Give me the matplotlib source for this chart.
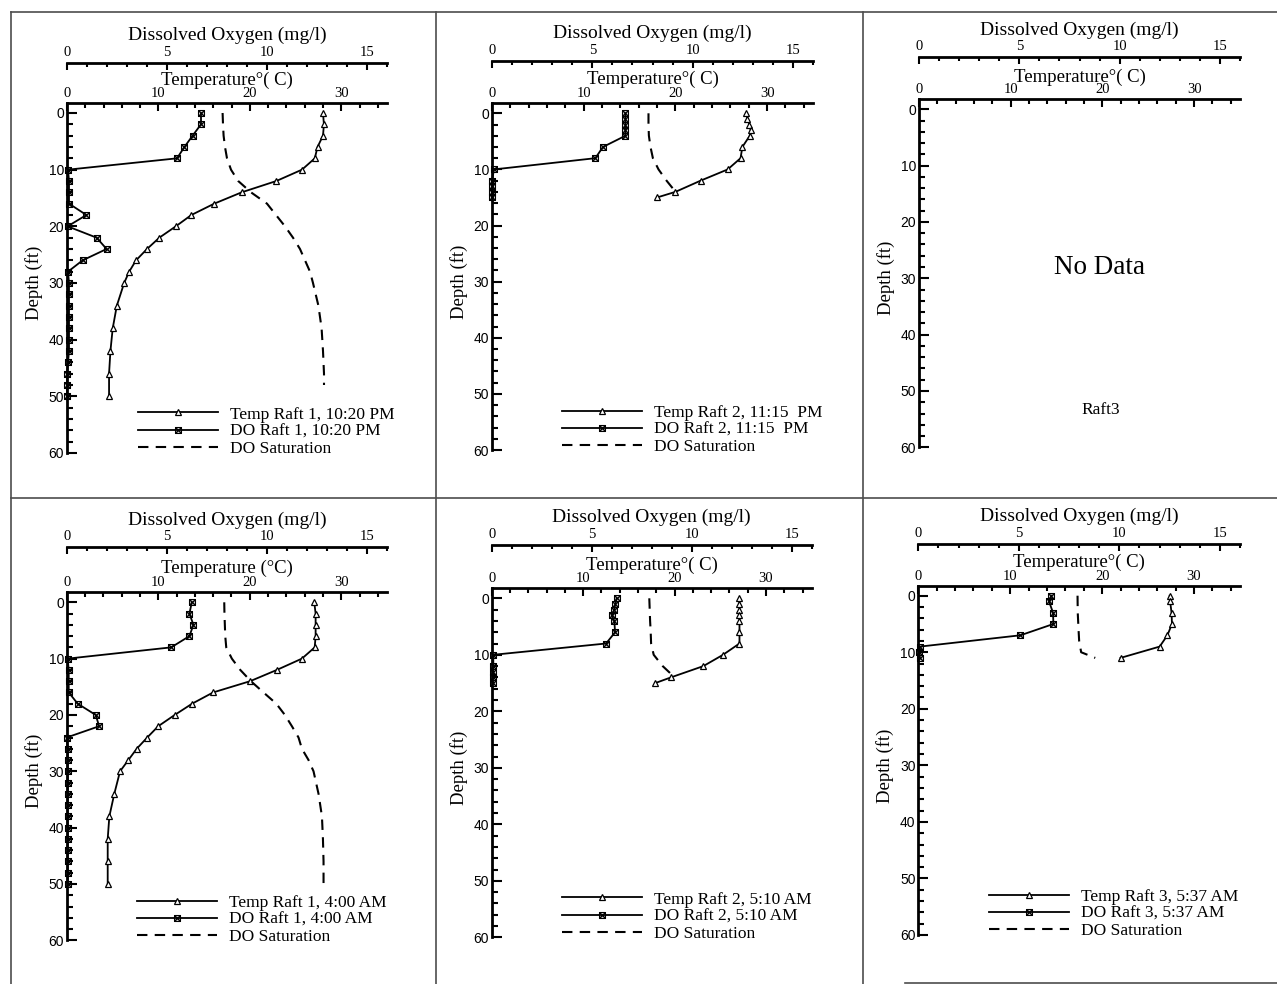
import matplotlib
matplotlib.use("Agg")
import matplotlib.pyplot as plt
from matplotlib.lines import Line2D
from matplotlib.path import Path
from matplotlib.ticker import MultipleLocator

plt.rcParams['font.family'] = ['Liberation Serif', 'DejaVu Serif']

W, H, DPI = 1277, 984, 100
PT = 72.0 / DPI  # points per pixel

# ---------------- profile data ----------------
# Raft 1, 10:20 PM
r1_pm_temp_depth = [0, 2, 4, 6, 8, 10, 12, 14, 16, 18, 20, 22, 24, 26, 28, 30, 34, 38, 42, 46, 50]
r1_pm_temp = [28.0, 28.1, 28.0, 27.4, 27.1, 25.7, 22.9, 19.1, 16.1, 13.6, 11.9, 10.1, 8.75,
              7.55, 6.8, 6.25, 5.45, 5.0, 4.75, 4.6, 4.6]
r1_pm_do_depth = list(range(0, 52, 2))
r1_pm_do = [6.7, 6.7, 6.28, 5.87, 5.5, 0.05, 0.1, 0.1, 0.1, 0.97, 0.03, 1.48, 1.98, 0.78,
            0.05, 0.1, 0.1, 0.1, 0.1, 0.1, 0.1, 0.1, 0.05, 0.0, 0.0, 0.0]
r1_pm_sat_depth = [0, 2, 4, 6, 8, 10, 12, 14, 16, 18, 20, 22, 24, 26, 28, 30, 34, 38, 42, 46, 48]
r1_pm_sat = [7.78, 7.8, 7.83, 7.9, 8.0, 8.2, 8.56, 9.2, 10.0, 10.45, 10.9, 11.3, 11.65,
             11.9, 12.15, 12.3, 12.57, 12.73, 12.8, 12.85, 12.85]

# Raft 2, 11:15 PM
r2_pm_temp_depth = [0, 1, 2, 3, 4, 6, 8, 10, 12, 14, 15]
r2_pm_temp = [27.7, 27.85, 28.05, 28.2, 28.1, 27.3, 27.1, 25.7, 22.75, 20.0, 18.0]
r2_pm_do_depth = [0, 1, 2, 3, 4, 6, 8, 10, 12, 13, 14, 15]
r2_pm_do = [6.65, 6.65, 6.65, 6.65, 6.65, 5.53, 5.15, 0.1, 0.0, 0.0, 0.0, 0.0]
r2_pm_sat_depth = [0, 2, 4, 6, 8, 10, 12, 14]
r2_pm_sat = [7.8, 7.8, 7.82, 7.9, 8.02, 8.3, 8.7, 9.15]

# Raft 1, 4:00 AM
r1_am_temp_depth = [0, 2, 4, 6, 8, 10, 12, 14, 16, 18, 20, 22, 24, 26, 28, 30, 34, 38, 42, 46, 50]
r1_am_temp = [27.05, 27.2, 27.2, 27.2, 27.1, 25.7, 22.97, 20.05, 16.0, 13.7, 11.8, 10.0, 8.8,
              7.65, 6.74, 5.83, 5.2, 4.66, 4.48, 4.48, 4.48]
r1_am_do_depth = list(range(0, 52, 2))
r1_am_do = [6.25, 6.13, 6.33, 6.13, 5.22, 0.05, 0.1, 0.1, 0.1, 0.55, 1.45, 1.62, 0.0,
            0.05, 0.05, 0.05, 0.05, 0.05, 0.05, 0.05, 0.05, 0.05, 0.05, 0.05, 0.05, 0.05]
r1_am_sat_depth = [0, 2, 4, 6, 8, 10, 12, 14, 16, 18, 20, 22, 24, 26, 28, 30, 34, 38, 42, 46, 50]
r1_am_sat = [7.87, 7.88, 7.9, 7.92, 7.97, 8.25, 8.67, 9.2, 9.83, 10.47, 10.9, 11.25, 11.58,
             11.75, 12.08, 12.33, 12.58, 12.75, 12.8, 12.83, 12.83]

# Raft 2, 5:10 AM
r2_am_temp_depth = [0, 1, 2, 3, 4, 6, 8, 10, 12, 14, 15]
r2_am_temp = [27.05, 27.1, 27.1, 27.1, 27.1, 27.1, 27.1, 25.3, 23.15, 19.6, 17.9]
r2_am_do_depth = [0, 1, 2, 3, 4, 6, 8, 10, 12, 13, 14, 15]
r2_am_do = [6.25, 6.18, 6.13, 6.0, 6.13, 6.17, 5.72, 0.08, 0.08, 0.05, 0.05, 0.05]
r2_am_sat_depth = [0, 2, 4, 6, 8, 10, 12, 14]
r2_am_sat = [7.88, 7.9, 7.92, 7.95, 7.97, 8.1, 8.55, 9.15]

# Raft 3, 5:37 AM
r3_am_temp_depth = [0, 1, 3, 5, 7, 9, 11]
r3_am_temp = [27.35, 27.4, 27.55, 27.6, 27.1, 26.26, 22.0]
r3_am_do_depth = [0, 1, 3, 5, 7, 9, 10, 11]
r3_am_do = [6.62, 6.5, 6.7, 6.72, 5.08, 0.08, 0.05, 0.08]
r3_am_sat_depth = [0, 3, 6, 8, 10, 11]
r3_am_sat = [7.92, 7.93, 7.97, 8.0, 8.1, 8.8]

# ---------------- figure ----------------
fig = plt.figure(figsize=(W / DPI, H / DPI), dpi=DPI)
fig.patch.set_facecolor('white')

TEMP_MAX, DO_MAX, DEPTH_TOP = 35, 16, -1.8

# square-with-cross marker for dissolved oxygen
DO_MARK = Path([(-1, -1), (1, -1), (1, 1), (-1, 1), (-1, -1),
                (-1, -1), (1, 1), (-1, 1), (1, -1)],
               [Path.MOVETO, Path.LINETO, Path.LINETO, Path.LINETO, Path.CLOSEPOLY,
                Path.MOVETO, Path.LINETO, Path.MOVETO, Path.LINETO])

temp_style = dict(color='k', lw=1.3, marker='^', ms=4.5, mfc='white', mec='k', mew=0.9)
do_style = dict(color='k', lw=1.3, marker=DO_MARK, ms=4.2, mfc='none', mec='k', mew=0.9)
sat_style = dict(color='k', lw=1.5, linestyle=(0, (5, 3.5)))


def make_panel(x0, x1, d0, d60, do_y, do_title_y, t_title_y, temp_title):
    """Build one depth-profile panel with a temperature axis and an offset DO axis."""
    ppf = (d60 - d0) / 60.0
    top = d0 + DEPTH_TOP * ppf
    ax = fig.add_axes([x0 / W, 1 - d60 / H, (x1 - x0) / W, (d60 - top) / H])
    ax2 = ax.twiny()

    ax.set_xlim(0, TEMP_MAX)
    ax.set_ylim(60, DEPTH_TOP)
    ax2.set_xlim(0, DO_MAX)

    for s in ('right', 'bottom'):
        ax.spines[s].set_visible(False)
    for s in ('left', 'top'):
        ax.spines[s].set_linewidth(2.0)
    for s in ('right', 'bottom', 'left'):
        ax2.spines[s].set_visible(False)
    ax2.spines['top'].set_linewidth(2.0)
    ax2.spines['top'].set_position(('outward', (top - do_y) * PT))

    ax.xaxis.set_ticks_position('top')
    ax.xaxis.set_major_locator(MultipleLocator(10))
    ax.xaxis.set_minor_locator(MultipleLocator(2))
    ax.tick_params(axis='x', which='both', direction='in', top=True, bottom=False,
                   labeltop=True, labelbottom=False, width=1.5, pad=2, labelsize=10.5)
    ax.tick_params(axis='x', which='major', length=6)
    ax.tick_params(axis='x', which='minor', length=3.6)

    ax.yaxis.set_major_locator(MultipleLocator(10))
    ax.yaxis.set_minor_locator(MultipleLocator(2))
    ax.tick_params(axis='y', which='both', direction='in', left=True, right=False,
                   width=1.5, pad=2, labelsize=10, labelfontfamily='Liberation Sans')
    ax.tick_params(axis='y', which='major', length=7.5)
    ax.tick_params(axis='y', which='minor', length=4)

    ax2.xaxis.set_major_locator(MultipleLocator(5))
    ax2.xaxis.set_minor_locator(MultipleLocator(1))
    ax2.tick_params(axis='x', which='both', direction='in', top=True, bottom=False,
                    labeltop=True, labelbottom=False, width=1.5, pad=3, labelsize=10.5)
    ax2.tick_params(axis='x', which='major', length=5)
    ax2.tick_params(axis='x', which='minor', length=3)

    ax.annotate(temp_title, xy=(0.5, 1), xycoords='axes fraction',
                xytext=(0, (top - t_title_y) * PT), textcoords='offset points',
                ha='center', va='baseline', fontsize=13.5)
    ax.annotate('Dissolved Oxygen (mg/l)', xy=(0.5, 1), xycoords='axes fraction',
                xytext=(0, (top - do_title_y) * PT), textcoords='offset points',
                ha='center', va='baseline', fontsize=14)
    ymid = (60 - 30) / (60 - DEPTH_TOP)
    ax.annotate('Depth (ft)', xy=(0, ymid), xycoords='axes fraction',
                xytext=(-33 * PT, 0), textcoords='offset points',
                ha='center', va='center', rotation=90, fontsize=13.5)
    return ax, ax2


def draw_profile(ax, ax2, temp_d, temp, do_d, do, sat_d, sat, labels, leg_x, leg_y):
    l1, = ax.plot(temp, temp_d, clip_on=False, **temp_style)
    l2, = ax2.plot(do, do_d, clip_on=False, **do_style)
    l3, = ax2.plot(sat, sat_d, **sat_style)
    ax2.legend([l1, l2, l3], labels, loc='center left',
               bbox_to_anchor=(leg_x / W, 1 - leg_y / H), bbox_transform=fig.transFigure,
               frameon=False, fontsize=12.5, handlelength=4.6, handletextpad=0.69,
               labelspacing=0.05, borderpad=0, borderaxespad=0, numpoints=1)


T_LABEL = 'Temperature\u00b0( C)'

# Raft 1, 10:20 PM
a, b = make_panel(67, 387, 113, 453, 63, 40, 85, T_LABEL)
draw_profile(a, b, r1_pm_temp_depth, r1_pm_temp, r1_pm_do_depth, r1_pm_do,
             r1_pm_sat_depth, r1_pm_sat,
             ['Temp Raft 1, 10:20 PM', 'DO Raft 1, 10:20 PM', 'DO Saturation'], 138, 431.5)

# Raft 2, 11:15 PM
a, b = make_panel(492, 813, 113.3, 450, 61, 38, 84, T_LABEL)
draw_profile(a, b, r2_pm_temp_depth, r2_pm_temp, r2_pm_do_depth, r2_pm_do,
             r2_pm_sat_depth, r2_pm_sat,
             ['Temp Raft 2, 11:15  PM', 'DO Raft 2, 11:15  PM', 'DO Saturation'], 561.7, 429.7)

# Raft 3, night: no measurements
a, b = make_panel(919, 1240, 109.3, 447.3, 57.3, 34.5, 81.7, T_LABEL)
a.text(19.7, 28.0, 'No Data', ha='center', va='center', fontsize=19.5)
a.text(19.8, 53.3, 'Raft3', ha='center', va='center', fontsize=12.5)

# Raft 1, 4:00 AM
a, b = make_panel(66.7, 387, 602.3, 940.3, 547.3, 524.5, 573.3, 'Temperature (\u00b0C)')
draw_profile(a, b, r1_am_temp_depth, r1_am_temp, r1_am_do_depth, r1_am_do,
             r1_am_sat_depth, r1_am_sat,
             ['Temp Raft 1, 4:00 AM', 'DO Raft 1, 4:00 AM', 'DO Saturation'], 136.7, 919.7)

# Raft 2, 5:10 AM
a, b = make_panel(491.7, 811.7, 598.3, 937.3, 545, 522, 570, T_LABEL)
draw_profile(a, b, r2_am_temp_depth, r2_am_temp, r2_am_do_depth, r2_am_do,
             r2_am_sat_depth, r2_am_sat,
             ['Temp Raft 2, 5:10 AM', 'DO Raft 2, 5:10 AM', 'DO Saturation'], 561.7, 916.5)

# Raft 3, 5:37 AM
a, b = make_panel(918.3, 1240, 595.7, 935, 544, 521, 566.7, T_LABEL)
draw_profile(a, b, r3_am_temp_depth, r3_am_temp, r3_am_do_depth, r3_am_do,
             r3_am_sat_depth, r3_am_sat,
             ['Temp Raft 3, 5:37 AM', 'DO Raft 3, 5:37 AM', 'DO Saturation'], 989, 913.8)

# panel frame lines
frame = [((11, 11.5), (1277, 11.5)), ((11, 11.5), (11, 984)),
         ((436, 11.5), (436, 984)), ((863, 11.5), (863, 984)),
         ((11, 497.5), (1277, 497.5)), ((905, 982.5), (1277, 982.5))]
for (xa, ya), (xb, yb) in frame:
    fig.add_artist(Line2D([xa / W, xb / W], [1 - ya / H, 1 - yb / H],
                          transform=fig.transFigure, color='0.3', lw=1.2))

fig.savefig('out.png', dpi=DPI, facecolor='white')
